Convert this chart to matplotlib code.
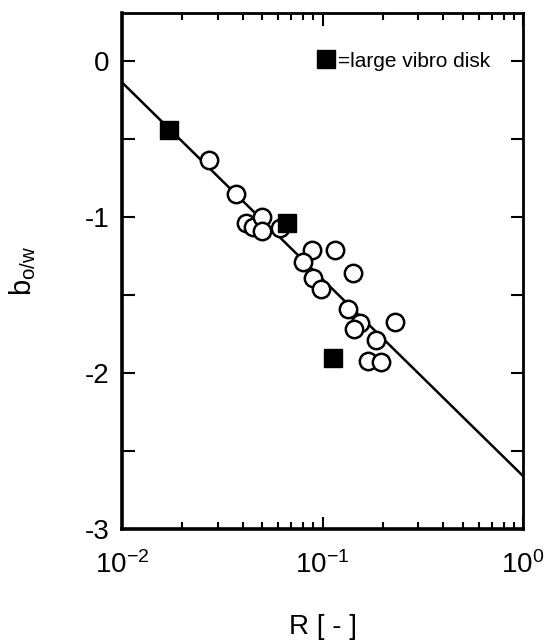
import numpy as np
import matplotlib
matplotlib.use("Agg")
import matplotlib.pyplot as plt
from matplotlib.lines import Line2D
from matplotlib.ticker import MultipleLocator, LogLocator, NullFormatter

plt.rcParams["font.family"] = ["Liberation Sans", "DejaVu Sans"]
plt.rcParams["mathtext.fontset"] = "custom"
plt.rcParams["mathtext.rm"] = "Liberation Sans"
plt.rcParams["mathtext.default"] = "regular"
plt.rcParams["axes.unicode_minus"] = False

# open circles: R [-] vs b_o/w
circle_R = [0.0272, 0.0369, 0.0414, 0.0449, 0.0501, 0.0498, 0.0614, 0.0883,
            0.1153, 0.0802, 0.142, 0.0899, 0.098, 0.134, 0.230, 0.153,
            0.144, 0.185, 0.168, 0.196]
circle_b = [-0.63, -0.85, -1.04, -1.06, -1.00, -1.09, -1.07, -1.21,
            -1.21, -1.29, -1.36, -1.39, -1.46, -1.59, -1.67, -1.68,
            -1.72, -1.79, -1.92, -1.93]

# filled squares: large vibro disk
square_R = [0.0171, 0.0662, 0.113]
square_b = [-0.44, -1.04, -1.90]

# fitted line (end points)
fit_R = [0.01, 1.0]
fit_b = [-0.135, -2.66]

fig = plt.figure(figsize=(5.51, 6.42), dpi=100)
ax = fig.add_axes([0.2214, 0.176, 0.7278, 0.8037])

ax.plot(fit_R, fit_b, color="black", linewidth=1.8, zorder=2)
ax.plot(circle_R, circle_b, linestyle="none", marker="o", markersize=12.5,
        markerfacecolor="white", markeredgecolor="black", markeredgewidth=1.8,
        zorder=3)
ax.plot(square_R, square_b, linestyle="none", marker="s", markersize=13,
        color="black", zorder=4)

ax.set_xscale("log")
ax.set_xlim(0.01, 1.0)
ax.set_ylim(-3, 0.31)

ax.xaxis.set_major_locator(LogLocator(base=10, numticks=5))
ax.xaxis.set_minor_locator(LogLocator(base=10, subs=np.arange(2, 10), numticks=10))
ax.xaxis.set_minor_formatter(NullFormatter())
ax.yaxis.set_major_locator(MultipleLocator(1))
ax.yaxis.set_minor_locator(MultipleLocator(0.5))

ax.tick_params(which="both", direction="in", top=True, right=True,
               width=1.5, labelsize=20)
ax.tick_params(which="major", length=9)
ax.tick_params(which="minor", length=5)
ax.tick_params(axis="y", which="minor", length=9)
ax.tick_params(axis="x", which="major", pad=16)
ax.tick_params(axis="y", which="major", pad=9)

for side in ["left", "bottom"]:
    ax.spines[side].set_linewidth(2.6)
for side in ["top", "right"]:
    ax.spines[side].set_linewidth(2.0)

ax.set_xlabel("R [ - ]", fontsize=20, labelpad=25)
ax.set_ylabel(r"b$_{o/w}$", fontsize=21, labelpad=34)

key = Line2D([], [], linestyle="none", marker="s", markersize=13, color="black")
ax.legend([key], ["=large vibro disk"], loc="center left",
          bbox_to_anchor=(0.45, 0.907), frameon=False, fontsize=15,
          handlelength=0.9, handletextpad=0.1, borderpad=0.2)

fig.savefig("out.png", dpi=100)
